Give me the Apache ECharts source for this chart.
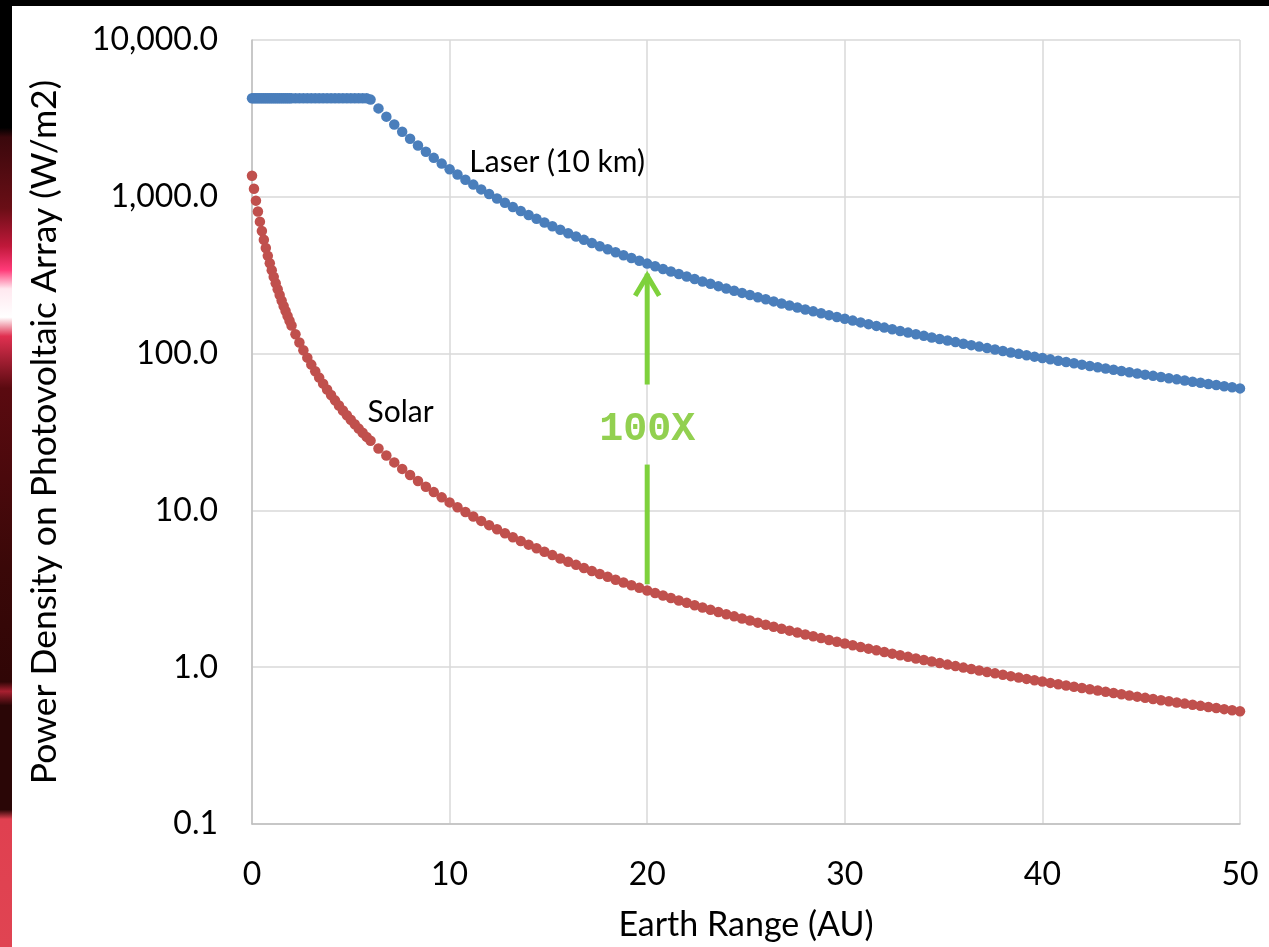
<!DOCTYPE html>
<html>
<head>
<meta charset="utf-8">
<script src="https://cdn.jsdelivr.net/npm/echarts@6/dist/echarts.min.js"></script>
<style>
html,body{margin:0;padding:0;background:#fff;}
#chart{width:1269px;height:947px;}
</style>
</head>
<body>
<div id="chart"></div>
<script>
// Earth range (AU) sample positions
const rangeAU = [
  0,0.1,0.2,0.3,0.4,0.5,0.6,0.7,0.8,0.9,1.0,1.1,1.2,1.3,1.4,1.5,1.6,1.7,1.8,1.9,
  2.0,2.2,2.4,2.6,2.8,3.0,3.2,3.4,3.6,3.8,4.0,4.2,4.4,4.6,4.8,5.0,5.2,5.4,5.6,5.8,
  6.0,6.4,6.8,7.2,7.6,8.0,8.4,8.8,9.2,9.6,10.0,10.4,10.8,11.2,11.6,12.0,12.4,12.8,13.2,13.6,
  14.0,14.4,14.8,15.2,15.6,16.0,16.4,16.8,17.2,17.6,18.0,18.4,18.8,19.2,19.6,20.0,20.4,20.8,21.2,21.6,
  22.0,22.4,22.8,23.2,23.6,24.0,24.4,24.8,25.2,25.6,26.0,26.4,26.8,27.2,27.6,28.0,28.4,28.8,29.2,29.6,
  30.0,30.4,30.8,31.2,31.6,32.0,32.4,32.8,33.2,33.6,34.0,34.4,34.8,35.2,35.6,36.0,36.4,36.8,37.2,37.6,
  38.0,38.4,38.8,39.2,39.6,40.0,40.4,40.8,41.2,41.6,42.0,42.4,42.8,43.2,43.6,44.0,44.4,44.8,45.2,45.6,
  46.0,46.4,46.8,47.2,47.6,48.0,48.4,48.8,49.2,49.6,50.0
];
// Laser (10 km) power density (W/m2)
const laserValues = [
  4250,4250,4250,4250,4250,4250,4250,4250,4250,4250,4250,4250,4250,4250,4250,4250,4250,4250,4250,4250,
  4250,4250,4250,4250,4250,4250,4250,4250,4250,4250,4250,4250,4250,4250,4250,4250,4250,4250,4250,4250,
  4167,3662,3244,2894,2597,2344,2126,1937,1772,1628,1500,1387,1286,1196,1115,1042,975.5,915.5,860.9,811.0,
  765.3,723.4,684.8,649.2,616.4,585.9,557.7,531.5,507.0,484.2,463.0,443.1,424.4,406.9,390.5,375.0,360.4,346.7,333.7,321.5,
  309.9,298.9,288.5,278.7,269.3,260.4,251.9,243.9,236.2,228.9,221.9,215.2,208.8,202.7,196.9,191.3,186.0,180.8,175.9,171.2,
  166.7,162.3,158.1,154.1,150.2,146.5,142.9,139.4,136.1,132.9,129.8,126.8,123.9,121.1,118.4,115.7,113.2,110.8,108.4,106.1,
  103.9,101.7,99.64,97.61,95.65,93.75,91.90,90.11,88.37,86.68,85.03,83.44,81.89,80.38,78.91,77.48,76.09,74.74,73.42,72.14,
  70.89,69.67,68.49,67.33,66.20,65.10,64.03,62.99,61.97,60.97,60.00
];
// Solar power density (W/m2)
const solarValues = [
  1361,1124.8,945.1,805.3,694.4,604.9,531.6,470.9,420.1,377.0,340.3,308.6,281.2,257.3,236.3,217.8,201.3,186.7,173.6,161.8,
  151.2,132.9,117.7,105.0,94.25,85.06,77.15,70.30,64.32,59.07,54.44,50.33,46.67,43.40,40.46,37.81,35.41,33.23,31.24,29.43,
  27.78,24.85,22.37,20.24,18.40,16.80,15.40,14.17,13.08,12.11,11.25,10.47,9.775,9.144,8.573,8.053,7.580,7.147,6.750,6.385,
  6.049,5.739,5.452,5.186,4.939,4.709,4.495,4.296,4.109,3.934,3.770,3.616,3.472,3.335,3.207,3.086,2.972,2.864,2.762,2.665,
  2.573,2.486,2.403,2.324,2.249,2.178,2.110,2.045,1.983,1.924,1.867,1.813,1.761,1.711,1.664,1.618,1.575,1.533,1.492,1.453,
  1.416,1.380,1.346,1.313,1.281,1.250,1.220,1.191,1.164,1.137,1.111,1.086,1.062,1.039,1.016,0.9942,0.9730,0.9525,0.9327,0.9134,
  0.8948,0.8767,0.8592,0.8422,0.8257,0.8096,0.7941,0.7789,0.7642,0.7500,0.7361,0.7226,0.7094,0.6967,0.6842,0.6721,0.6603,0.6488,0.6376,0.6267,
  0.6161,0.6058,0.5957,0.5858,0.5762,0.5668,0.5577,0.5488,0.5401,0.5316,0.5233
];
const yTickValues = [0.1, 1, 10, 100, 1000, 10000];
const xTickValues = [0, 10, 20, 30, 40, 50];
const seriesNames = ['Laser (10 km)', 'Solar'];
const annotationText = '100X';
const axisTitles = { x: 'Earth Range (AU)', y: 'Power Density on Photovoltaic Array (W/m2)' };

const FONT = 'Lato, "Open Sans", sans-serif';
const chart = echarts.init(document.getElementById('chart'), null, { renderer: 'canvas' });

function pairs(ys) { return rangeAU.map((x, i) => [x, ys[i]]); }

chart.setOption({
  backgroundColor: '#ffffff',
  animation: false,
  grid: { left: 252, right: 29, top: 40, bottom: 122, containLabel: false },
  xAxis: {
    type: 'value', min: 0, max: 50, interval: 10,
    name: axisTitles.x, nameLocation: 'middle', nameGap: 84,
    nameTextStyle: { fontFamily: FONT, fontSize: 34, color: '#000' },
    axisLine: { show: true, onZero: false, lineStyle: { color: '#bfbfbf', width: 1.5 } },
    axisTick: { show: false },
    axisLabel: { fontFamily: FONT, fontSize: 32, color: '#000', margin: 35 },
    splitLine: { show: true, lineStyle: { color: '#d9d9d9', width: 1.5 } }
  },
  yAxis: {
    type: 'log', logBase: 10, min: 0.1, max: 10000,
    name: axisTitles.y, nameLocation: 'middle', nameGap: 189, nameRotate: 90,
    nameTextStyle: { fontFamily: FONT, fontSize: 35.5, color: '#000' },
    axisLine: { show: true, lineStyle: { color: '#bfbfbf', width: 1.5 } },
    axisTick: { show: false },
    axisLabel: {
      fontFamily: FONT, fontSize: 32, color: '#000', margin: 34,
      formatter: v => Number(v).toLocaleString('en-US', { minimumFractionDigits: 1, maximumFractionDigits: 1 })
    },
    splitLine: { show: true, lineStyle: { color: '#d9d9d9', width: 1.5 } },
    minorTick: { show: false }
  },
  series: [
    {
      name: seriesNames[0], type: 'scatter', data: pairs(laserValues),
      symbol: 'circle', symbolSize: 10.5, itemStyle: { color: '#4a7ebb', opacity: 1 }, z: 3
    },
    {
      name: seriesNames[1], type: 'scatter', data: pairs(solarValues),
      symbol: 'circle', symbolSize: 10.5, itemStyle: { color: '#c0504d', opacity: 1 }, z: 3
    }
  ]
});

function px(x, y) { return chart.convertToPixel({ gridIndex: 0 }, [x, y]); }

const green = '#7ed13c';
const a1 = px(20, 3.38), a2 = px(20, 19.6);
const b1 = px(20, 63.5), tip = px(20, 333);
const laserLbl = px(11.0, 1671);
const solarLbl = px(5.85, 42);
const midLbl = px(20, 32.5);

chart.setOption({
  graphic: [
    // photo-edge strips from the source
    { type: 'rect', left: 0, top: 0, shape: { x: 0, y: 0, width: 1269, height: 6 }, style: { fill: '#000' }, z: 100 },
    { type: 'rect', left: 0, top: 0, shape: { x: 0, y: 0, width: 12, height: 947 }, z: 100,
      style: { fill: new echarts.graphic.LinearGradient(0, 0, 0, 1, [
        { offset: 0, color: '#000000' }, { offset: 0.135, color: '#000000' },
        { offset: 0.145, color: '#3a080c' }, { offset: 0.22, color: '#6a0e16' },
        { offset: 0.26, color: '#c0183a' }, { offset: 0.285, color: '#ff3a78' },
        { offset: 0.305, color: '#ffe8ef' }, { offset: 0.335, color: '#ffffff' },
        { offset: 0.355, color: '#e03050' }, { offset: 0.41, color: '#5a0a10' },
        { offset: 0.60, color: '#3a0808' }, { offset: 0.72, color: '#300606' },
        { offset: 0.73, color: '#a82030' }, { offset: 0.745, color: '#2a0606' },
        { offset: 0.855, color: '#2a0606' }, { offset: 0.865, color: '#e04050' },
        { offset: 1, color: '#e04452' }
      ]) } },
    // 100X arrow
    { type: 'line', shape: { x1: a1[0], y1: a1[1], x2: a2[0], y2: a2[1] }, style: { stroke: green, lineWidth: 5 }, z: 50 },
    { type: 'line', shape: { x1: b1[0], y1: b1[1], x2: tip[0], y2: tip[1] + 2 }, style: { stroke: green, lineWidth: 5 }, z: 50 },
    { type: 'polyline', shape: { points: [[tip[0] - 12, tip[1] + 24], [tip[0], tip[1] + 4], [tip[0] + 12, tip[1] + 24]] },
      style: { stroke: green, lineWidth: 5, fill: null, lineJoin: 'miter' }, z: 50 },
    { type: 'text', x: midLbl[0], y: midLbl[1], z: 50,
      style: { text: annotationText, fill: '#92d050', font: 'bold 40px "Liberation Mono", "DejaVu Sans Mono", monospace', align: 'center', verticalAlign: 'middle' } },
    { type: 'text', x: laserLbl[0], y: laserLbl[1], z: 50,
      style: { text: seriesNames[0], fill: '#000', font: '30px ' + FONT, align: 'left', verticalAlign: 'middle' } },
    { type: 'text', x: solarLbl[0], y: solarLbl[1], z: 50,
      style: { text: seriesNames[1], fill: '#000', font: '30px ' + FONT, align: 'left', verticalAlign: 'middle' } }
  ]
});
</script>
</body>
</html>
